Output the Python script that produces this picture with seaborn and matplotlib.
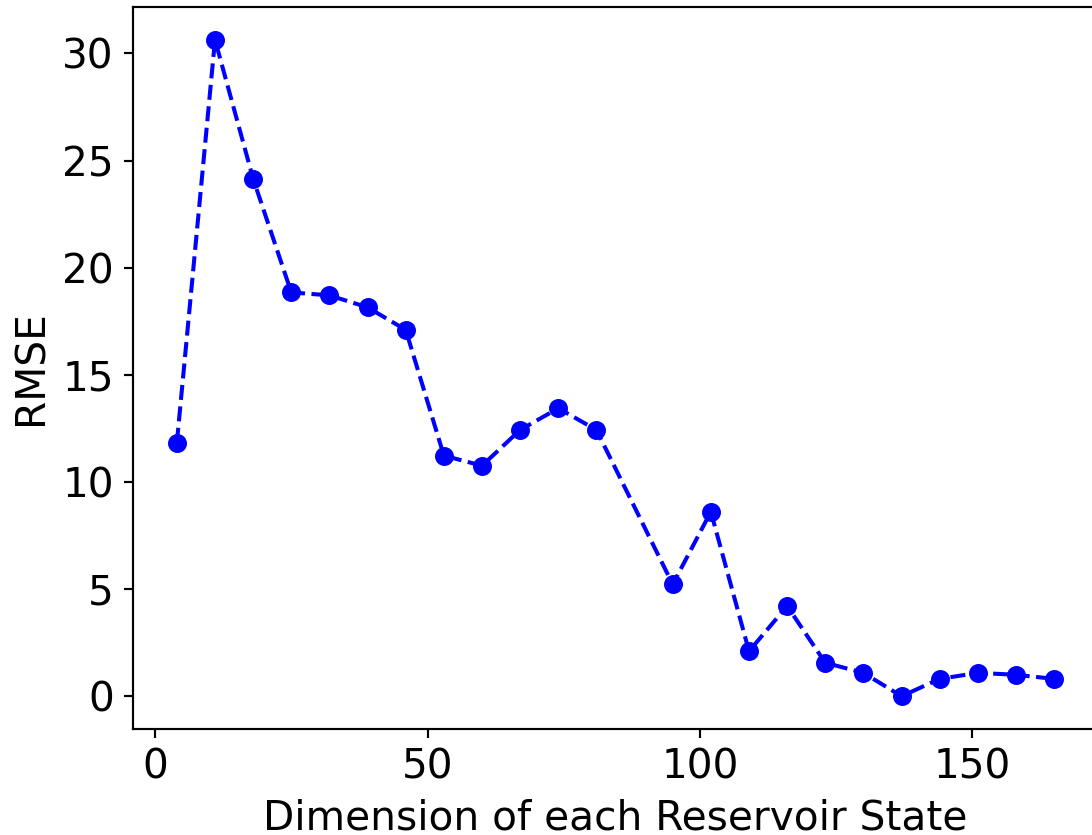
import matplotlib
matplotlib.use("Agg")
import matplotlib.pyplot as plt
import seaborn as sns
import pandas as pd

# Reservoir state dimension vs. prediction error
dimensions = [4, 11, 18, 25, 32, 39, 46, 53, 60, 67, 74, 81,
              95, 102, 109, 116, 123, 130, 137, 144, 151, 158, 165]
rmse = [11.83, 30.64, 24.15, 18.85, 18.71, 18.15, 17.10, 11.23, 10.76, 12.43, 13.44, 12.43,
        5.22, 8.61, 2.10, 4.21, 1.56, 1.09, 0.00, 0.81, 1.09, 1.00, 0.81]

df = pd.DataFrame({"dim": dimensions, "rmse": rmse})

sns.set_style("ticks")
plt.rcParams["font.family"] = ["DejaVu Sans"]
plt.rcParams["text.color"] = "black"
plt.rcParams["axes.labelcolor"] = "black"
plt.rcParams["xtick.color"] = "black"
plt.rcParams["ytick.color"] = "black"
plt.rcParams["axes.edgecolor"] = "black"

DPI = 195
fig = plt.figure(figsize=(1092 / DPI, 835 / DPI), dpi=DPI)
ax = fig.add_axes([133 / 1092, 106 / 835, (1098 - 133) / 1092, 722 / 835])

sns.lineplot(data=df, x="dim", y="rmse", ax=ax, color="blue", marker="o",
             linestyle="--", linewidth=1.5, markersize=6,
             markeredgecolor="blue", markeredgewidth=1.0)

ax.set_xlim(-4.05, 173.05)
ax.set_ylim(-1.53, 32.17)
ax.set_xticks([0, 50, 100, 150])
ax.set_yticks([0, 5, 10, 15, 20, 25, 30])
ax.set_xlabel("Dimension of each Reservoir State", fontsize=15, color="black")
ax.set_ylabel("RMSE", fontsize=15, color="black")
ax.tick_params(axis="both", labelsize=15, length=3.5, width=0.8,
               color="black", labelcolor="black")
for s in ax.spines.values():
    s.set_color("black")
    s.set_linewidth(0.8)

fig.savefig("out.png", dpi=DPI)
